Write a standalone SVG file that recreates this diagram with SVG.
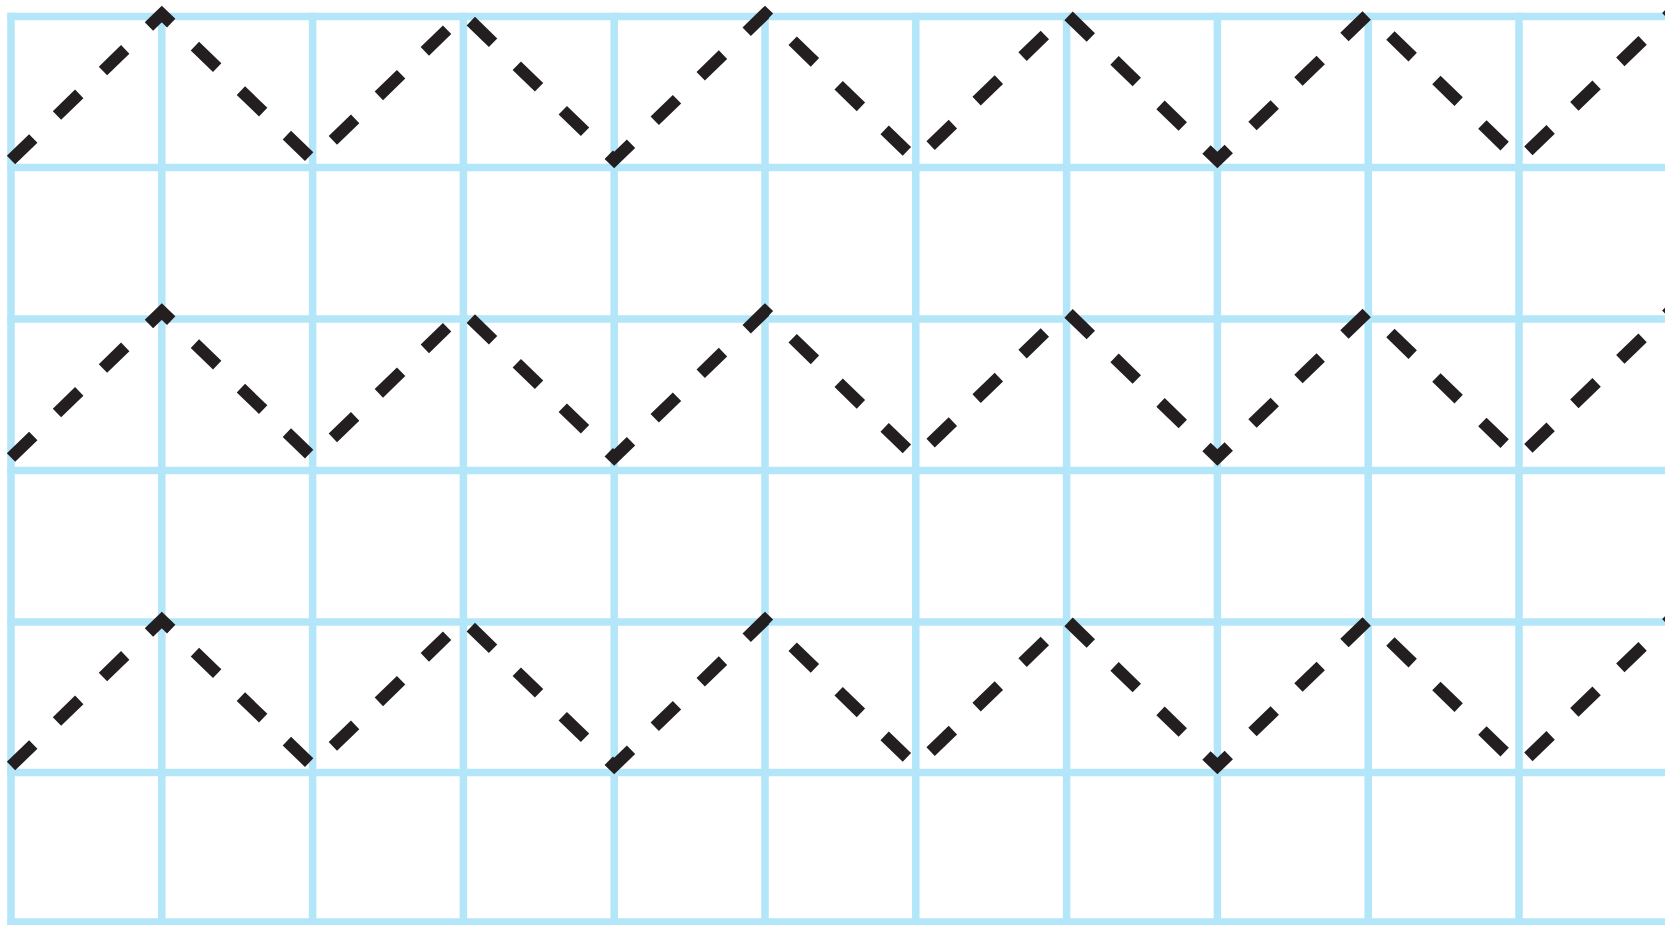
<svg xmlns="http://www.w3.org/2000/svg" xmlns:xlink="http://www.w3.org/1999/xlink" width="1665" height="925" viewBox="0 0 1665 925">
  <style>
    .grid line { stroke: #b3e6f8; stroke-width: 7.5; stroke-linecap: butt; }
    .zig { fill: none; stroke: #231f20; stroke-width: 12; stroke-dasharray: 31 33; stroke-linejoin: miter; stroke-miterlimit: 10; stroke-linecap: butt; }
  </style>
  <defs>
    <path id="zigzag" class="zig" d="M11 160 L161.8 14 L312.6 160 L463.4 14 L614.2 160 L765 14 L915.8 160 L1066.6 14 L1217.4 160 L1368.2 14 L1519 160 L1669.8 14 L1820.6 160"/>
  </defs>
  <rect width="1665" height="925" fill="#ffffff"/>
  <g id="grid" class="grid">
    <g id="grid-horizontal">
      <line x1="7.3" y1="16.5" x2="1665" y2="16.5"/>
      <line x1="7.3" y1="167.5" x2="1665" y2="167.5"/>
      <line x1="7.3" y1="319" x2="1665" y2="319"/>
      <line x1="7.3" y1="470.5" x2="1665" y2="470.5"/>
      <line x1="7.3" y1="622" x2="1665" y2="622"/>
      <line x1="7.3" y1="772.5" x2="1665" y2="772.5"/>
      <line x1="7.3" y1="922" x2="1665" y2="922"/>
    </g>
    <g id="grid-vertical">
      <line x1="11" y1="12.8" x2="11" y2="925"/>
      <line x1="161.8" y1="12.8" x2="161.8" y2="925"/>
      <line x1="312.6" y1="12.8" x2="312.6" y2="925"/>
      <line x1="463.4" y1="12.8" x2="463.4" y2="925"/>
      <line x1="614.2" y1="12.8" x2="614.2" y2="925"/>
      <line x1="765" y1="12.8" x2="765" y2="925"/>
      <line x1="915.8" y1="12.8" x2="915.8" y2="925"/>
      <line x1="1066.6" y1="12.8" x2="1066.6" y2="925"/>
      <line x1="1217.4" y1="12.8" x2="1217.4" y2="925"/>
      <line x1="1368.2" y1="12.8" x2="1368.2" y2="925"/>
      <line x1="1519" y1="12.8" x2="1519" y2="925"/>
    </g>
  </g>
  <g id="zigzags">
    <use id="zigzag-row-1" xlink:href="#zigzag" href="#zigzag"/>
    <use id="zigzag-row-2" xlink:href="#zigzag" href="#zigzag" transform="translate(0 297.5)"/>
    <use id="zigzag-row-3" xlink:href="#zigzag" href="#zigzag" transform="translate(0 606)"/>
  </g>
</svg>
